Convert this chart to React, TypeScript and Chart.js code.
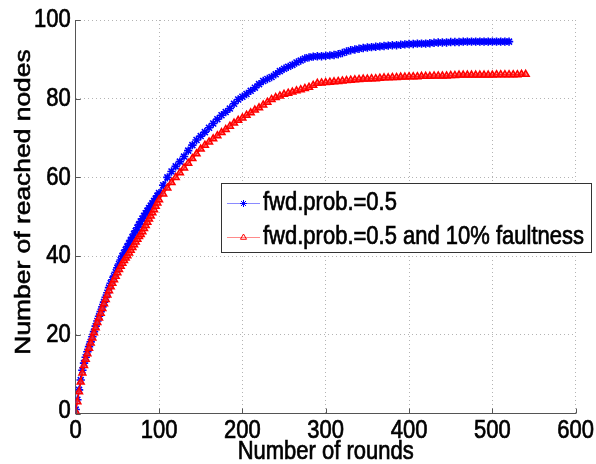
import React, { useEffect, useRef } from 'react';
import { Chart, registerables } from 'chart.js';
import { drawPoint } from 'chart.js/helpers';

Chart.register(...registerables);

const ROUNDS = [
  0, 2, 4, 6, 8, 10, 12, 14, 16, 18, 20, 22, 24, 26, 28, 30, 32, 34, 36, 38, 40,
  42, 44, 46, 48, 50, 52, 54, 56, 58, 60, 62, 64, 66, 68, 70, 72, 74, 76, 78, 80,
  82, 84, 86, 88, 90, 92, 94, 96, 98, 100,
  105, 110, 115, 120, 125, 130, 135, 140, 145, 150, 155, 160, 165, 170, 175, 180,
  185, 190, 195, 200, 205, 210, 215, 220, 225, 230, 235, 240, 245, 250, 255, 260,
  265, 270, 275, 280, 285, 290, 295, 300, 305, 310, 315, 320, 325, 330, 335, 340,
  345, 350, 355, 360, 365, 370, 375, 380, 385, 390, 395, 400, 405, 410, 415, 420,
  425, 430, 435, 440, 445, 450, 455, 460, 465, 470, 475, 480, 485, 490, 495, 500,
  505, 510, 515, 520, 525, 530, 535, 540,
];

const SERIES_LABELS = ['fwd.prob.=0.5', 'fwd.prob.=0.5 and 10% faultness'];

const BLUE_VALUES = [
  1, 3.5, 6, 8.5, 11, 12.8, 14.3, 15.7, 17, 18.2, 19.5, 20.8, 22.2, 23.5, 24.7, 25.9,
  27.1, 28.3, 29.5, 30.7, 32, 33.1, 34, 34.9, 35.9, 37, 38, 39, 40, 40.8, 41.6, 42.4,
  43.2, 44, 44.8, 45.6, 46.4, 47.2, 48, 48.8, 49.5, 50.2, 50.9, 51.5, 52.2, 52.8, 53.4,
  54, 54.6, 55.3, 56,
  58, 60, 61.5, 62.8, 64, 65.3, 66.8, 68.2, 69.5, 70.5, 71.5, 72.6, 73.7, 74.8, 75.8,
  76.6, 77.5, 78.7, 79.8, 80.5, 81.2, 82, 82.8, 83.7, 84.5, 85, 85.5, 86.2, 87, 87.6,
  88.1, 88.6, 89.2, 89.7, 90.2, 90.5, 90.7, 90.8, 90.8, 90.9, 91, 91.1, 91.3, 91.6, 92,
  92.3, 92.5, 92.7, 92.9, 93, 93.1, 93.2, 93.3, 93.4, 93.5, 93.6, 93.6, 93.7, 93.8, 93.9,
  93.9, 94, 94, 94, 94.1, 94.2, 94.3, 94.3, 94.3, 94.4, 94.4, 94.4, 94.5, 94.5, 94.5,
  94.5, 94.5, 94.5, 94.5, 94.5, 94.5, 94.5, 94.5, 94.5,
];

const RED_VALUES = [
  0.5, 3, 5.5, 8, 10.3, 12.2, 13.8, 15.2, 16.6, 17.9, 19.2, 20.5, 21.8, 23.1, 24.3, 25.5,
  26.7, 27.9, 29, 30.1, 31.2, 32.2, 33.1, 34, 34.9, 35.8, 36.6, 37.4, 38.2, 38.9, 39.5,
  40.1, 40.8, 41.5, 42.2, 42.9, 43.6, 44.3, 45, 45.5, 46.2, 47, 47.8, 48.6, 49.4, 50.2,
  51, 51.8, 52.7, 53.5, 54.3,
  55.8, 57.3, 58.7, 60, 61.2, 62.4, 63.6, 64.8, 66, 67.2, 68.2, 69, 69.8, 70.6, 71.4,
  72.2, 73, 73.8, 74.5, 75.1, 75.8, 76.4, 77.1, 77.7, 78.4, 79.1, 79.8, 80.3, 80.7, 81.1,
  81.4, 81.7, 82, 82.3, 82.6, 82.9, 83.4, 83.9, 84, 84.1, 84.2, 84.3, 84.4, 84.5, 84.6,
  84.7, 84.8, 84.9, 85, 85, 85.1, 85.1, 85.2, 85.3, 85.3, 85.4, 85.4, 85.5, 85.5, 85.6,
  85.6, 85.6, 85.7, 85.7, 85.7, 85.8, 85.8, 85.8, 85.8, 85.9, 85.9, 86, 86, 86, 86, 86,
  86, 86, 86, 86, 86.1, 86.1, 86.1, 86.1, 86.1, 86.1, 86.2, 86.2,
];

const X_TITLE = 'Number of rounds';
const Y_TITLE = 'Number of reached nodes';

const FONT = '"Liberation Sans", Arial, sans-serif';
const STRETCH = 1.2;

function stretchedText(ctx: CanvasRenderingContext2D, text: string, x: number, y: number, align: CanvasTextAlign, rotate = false) {
  ctx.save();
  ctx.translate(x, y);
  if (rotate) {
    ctx.rotate(-Math.PI / 2);
    ctx.scale(STRETCH, 1);
  } else {
    ctx.scale(1, STRETCH);
  }
  ctx.font = `22px ${FONT}`;
  ctx.fillStyle = '#000';
  ctx.strokeStyle = '#000';
  ctx.lineWidth = 0.6;
  ctx.textAlign = align;
  ctx.textBaseline = 'middle';
  ctx.fillText(text, 0, 0);
  ctx.strokeText(text, 0, 0);
  ctx.restore();
}

const decorPlugin = {
  id: 'matlabDecor',
  afterDatasetsDraw(chart: any) {
    const { ctx, chartArea, scales } = chart;
    const { left, bottom } = chartArea;
    const xs = scales.x;
    const ys = scales.y;
    // inward tick marks
    ctx.save();
    ctx.strokeStyle = '#555';
    ctx.lineWidth = 1;
    ctx.beginPath();
    xs.ticks.forEach((t: any) => {
      const px = Math.round(xs.getPixelForValue(t.value)) + 0.5;
      ctx.moveTo(px, bottom);
      ctx.lineTo(px, bottom - 5);
    });
    ys.ticks.forEach((t: any) => {
      const py = Math.round(ys.getPixelForValue(t.value)) + 0.5;
      ctx.moveTo(left, py);
      ctx.lineTo(left + 5, py);
    });
    ctx.stroke();
    ctx.restore();
  },
  afterDraw(chart: any) {
    const { ctx, chartArea, scales } = chart;
    const xs = scales.x;
    const ys = scales.y;
    // tick labels
    xs.ticks.forEach((t: any) => {
      stretchedText(ctx, String(t.value), xs.getPixelForValue(t.value), chartArea.bottom + 17, 'center');
    });
    ys.ticks.forEach((t: any) => {
      const py = ys.getPixelForValue(t.value);
      stretchedText(ctx, String(t.value), chartArea.left - 5, t.value === 0 ? py - 3 : py, 'right');
    });
    // axis titles
    stretchedText(ctx, X_TITLE, (chartArea.left + chartArea.right) / 2, 452, 'center');
    stretchedText(ctx, Y_TITLE, 24, 202, 'center', true);

    // legend box
    const bx = 221.5, by = 183.5, bw = 370, bh = 69;
    ctx.save();
    ctx.fillStyle = '#fff';
    ctx.fillRect(bx, by, bw, bh);
    ctx.strokeStyle = '#333';
    ctx.lineWidth = 1;
    ctx.strokeRect(bx, by, bw, bh);
    ctx.restore();
    const rows = [203, 237];
    const lineColors = ['#8a8aff', '#ff8a8a'];
    chart.data.datasets.forEach((ds: any, i: number) => {
      const ry = rows[i];
      ctx.save();
      ctx.strokeStyle = lineColors[i];
      ctx.lineWidth = 1;
      ctx.beginPath();
      ctx.moveTo(227, ry + 0.5);
      ctx.lineTo(260, ry + 0.5);
      ctx.stroke();
      ctx.strokeStyle = ds.borderColor;
      ctx.fillStyle = 'rgba(0,0,0,0)';
      ctx.lineWidth = 1;
      drawPoint(ctx, { pointStyle: ds.pointStyle, radius: 3.5, rotation: 0, borderWidth: 1 } as any, 243.5, ry + 0.5);
      ctx.restore();
      stretchedText(ctx, ds.label, 263, ry, 'left');
    });
  },
};

export default function App() {
  const canvasRef = useRef<HTMLCanvasElement | null>(null);

  useEffect(() => {
    document.body.style.margin = '0';
    const canvas = canvasRef.current;
    if (!canvas) return;
    const blue = BLUE_VALUES.map((v, i) => ({ x: ROUNDS[i], y: v }));
    const red = RED_VALUES.map((v, i) => ({ x: ROUNDS[i], y: v }));
    const chart = new Chart(canvas, {
      type: 'line',
      data: {
        datasets: [
          {
            label: SERIES_LABELS[0],
            data: blue,
            borderColor: '#0000ff',
            backgroundColor: 'rgba(0,0,0,0)',
            borderWidth: 1.5,
            pointStyle: 'star',
            pointRadius: 4.2,
            pointBorderWidth: 1.6,
            pointBorderColor: '#0000ff',
            pointBackgroundColor: 'rgba(0,0,0,0)',
            order: 1,
          },
          {
            label: SERIES_LABELS[1],
            data: red,
            borderColor: '#ff0000',
            backgroundColor: 'rgba(0,0,0,0)',
            borderWidth: 1.5,
            pointStyle: 'triangle',
            pointRadius: 4,
            pointBorderWidth: 1.5,
            pointBorderColor: '#ff0000',
            pointBackgroundColor: 'rgba(255,60,60,0.6)',
            order: 0,
          },
        ],
      },
      options: {
        animation: false,
        responsive: false,
        maintainAspectRatio: false,
        devicePixelRatio: 1,
        layout: { padding: { top: 20, right: 20.3, left: 0, bottom: 0 } },
        plugins: { legend: { display: false }, tooltip: { enabled: false } },
        scales: {
          x: {
            type: 'linear',
            min: 0,
            max: 600,
            ticks: { stepSize: 100, display: false },
            grid: { color: '#b4b4b4', drawTicks: false, lineWidth: 1 },
            border: { color: '#555', width: 1, dash: [1, 3] },
            afterFit: (s: any) => { s.height = 50.5; },
          },
          y: {
            type: 'linear',
            min: 0,
            max: 100,
            ticks: { stepSize: 20, display: false },
            grid: { color: '#b4b4b4', drawTicks: false, lineWidth: 1 },
            border: { color: '#555', width: 1, dash: [1, 3] },
            afterFit: (s: any) => { s.width = 75.7; },
          },
        },
      },
      plugins: [decorPlugin],
    });
    return () => chart.destroy();
  }, []);

  return (
    <div style={{ position: 'fixed', left: 0, top: 0, width: 596, height: 464, background: '#fff' }}>
      <canvas ref={canvasRef} width={596} height={464} style={{ width: 596, height: 464 }} />
    </div>
  );
}
